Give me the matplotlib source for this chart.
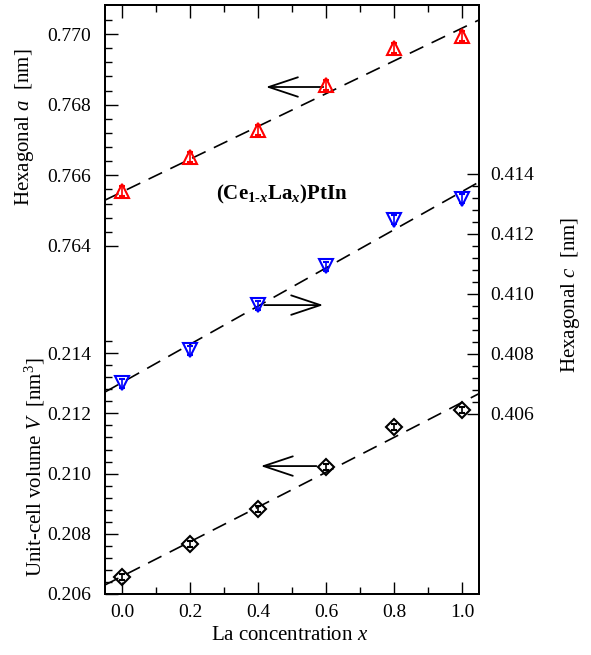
import numpy as np
import matplotlib
matplotlib.use('Agg')
import matplotlib.pyplot as plt
from matplotlib.ticker import FormatStrFormatter
from matplotlib.patches import FancyArrowPatch

plt.rcParams['font.family'] = 'Liberation Serif'
plt.rcParams['mathtext.fontset'] = 'custom'
plt.rcParams['mathtext.rm'] = 'Liberation Serif'
plt.rcParams['mathtext.it'] = 'Liberation Serif:italic'
plt.rcParams['mathtext.bf'] = 'Liberation Serif:bold'
plt.rcParams['mathtext.bfit'] = 'Liberation Serif:bold:italic'

# La concentration
x = [0.0, 0.2, 0.4, 0.6, 0.8, 1.0]
# lattice parameters (nm) and cell volume (nm^3)
a = [0.76556, 0.76652, 0.76728, 0.76856, 0.76960, 0.76994]
c = [0.40703, 0.40813, 0.40963, 0.41093, 0.41247, 0.41317]
V = [0.20656, 0.20766, 0.20882, 0.21022, 0.21155, 0.21211]
a_err = [0.00015] * 6
c_err = [0.00015] * 6
V_err = [0.0001] * 6
# linear fits a(x), c(x): [intercept, slope]
a_fit = [0.76553, 0.004636]
c_fit = [0.40705, 0.006364]

xl = [-0.05, 1.05]
xf = np.linspace(xl[0], xl[1], 50)
af = a_fit[0] + a_fit[1] * xf
cf = c_fit[0] + c_fit[1] * xf
Vf = np.sqrt(3) / 2 * af ** 2 * cf   # hexagonal cell volume from fits

fig = plt.figure(figsize=(5.91, 6.55), dpi=100)
rect = [105 / 591, 1 - 594 / 655, 374 / 591, 589 / 655]
ax = fig.add_axes(rect)
axv = ax.twinx()
axc = ax.twinx()

ax.set_xlim(xl)
ax.set_ylim(0.75415, 0.770821)
axv.set_ylim(0.206, 0.225568)
axc.set_ylim(0.400, 0.419633)

dash = (0, (9, 5.5))
ax.plot(xf, af, color='k', lw=1.2, ls=dash)
axc.plot(xf, cf, color='k', lw=1.2, ls=dash)
axv.plot(xf, Vf, color='k', lw=1.2, ls=dash)

mk = dict(mfc='none', ms=10, mew=1.5, capsize=2.5, elinewidth=1.2, ls='none')
ax.errorbar(x, a, yerr=a_err, fmt='^', mec='red', ecolor='red', **mk)
axc.errorbar(x, c, yerr=c_err, fmt='v', mec='blue', ecolor='blue', **mk)
axv.errorbar(x, V, yerr=V_err, fmt='D', mec='k', ecolor='k', ms=8.5,
             **{k: v for k, v in mk.items() if k != 'ms'})

# ticks
ax.set_xticks(np.arange(0, 1.01, 0.2))
ax.set_xticks(np.arange(0, 1.01, 0.1), minor=True)
ax.xaxis.set_major_formatter(FormatStrFormatter('%.1f'))
ax.set_yticks(np.arange(0.764, 0.7701, 0.002))
ax.set_yticks(np.arange(0.764, 0.77045, 0.0004), minor=True)
ax.yaxis.set_major_formatter(FormatStrFormatter('%.3f'))
ax.tick_params(axis='x', which='both', top=True, direction='in', labelsize=14, pad=7)
ax.tick_params(axis='y', which='both', left=True, right=False, direction='in', labelsize=14, pad=10)

axv.yaxis.tick_left()
axv.set_yticks(np.arange(0.206, 0.2141, 0.002))
axv.set_yticks(np.arange(0.206, 0.21445, 0.0004), minor=True)
axv.yaxis.set_major_formatter(FormatStrFormatter('%.3f'))
axv.tick_params(axis='y', which='both', left=True, right=False, direction='in', labelsize=14, pad=10)

axc.set_yticks(np.arange(0.406, 0.4141, 0.002))
axc.set_yticks(np.arange(0.406, 0.41405, 0.0004), minor=True)
axc.yaxis.set_major_formatter(FormatStrFormatter('%.3f'))
axc.tick_params(axis='y', which='both', right=True, left=False, direction='in', labelsize=14, pad=8)

for aa in (ax, axv, axc):
    aa.tick_params(which='major', length=9, width=1.0)
    aa.tick_params(which='minor', length=5, width=1.0)
    for s in aa.spines.values():
        s.set_linewidth(1.4)

# arrows pointing to the relevant axis
arr = dict(arrowstyle='->,head_length=1.5,head_width=0.5', mutation_scale=14, lw=1.3, color='k')
ax.add_patch(FancyArrowPatch((0.6, 0.7685), (0.415, 0.7685), **arr))
axc.add_patch(FancyArrowPatch((0.41, 0.40963), (0.60, 0.40963), **arr))
axv.add_patch(FancyArrowPatch((0.58, 0.21025), (0.40, 0.21025), **arr))

ax.text(0.472, 0.678, r'(Ce$_{\mathbf{1}\text{-}\mathbfit{x}}$La$_{\mathbfit{x}}$)PtIn',
        transform=ax.transAxes, ha='center', va='center', fontsize=15, fontweight='bold')

fig.text(25 / 591, 1 - 127 / 655, r'Hexagonal $a$  [nm]', rotation=90, ha='center', va='center', fontsize=15)
fig.text(35 / 591, 1 - 467 / 655, r'Unit-cell volume $V$  [nm$^3$]', rotation=90, ha='center', va='center', fontsize=15)
fig.text(571 / 591, 1 - 295 / 655, r'Hexagonal $c$  [nm]', rotation=90, ha='center', va='center', fontsize=15)
fig.text(290 / 591, 1 - 635 / 655, r'La concentration $x$', ha='center', va='center', fontsize=15)

fig.savefig('out.png', dpi=100)
